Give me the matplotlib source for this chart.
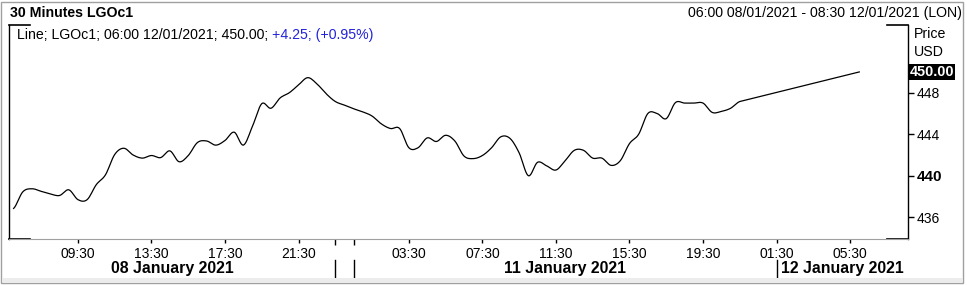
import numpy as np
import pandas as pd
import matplotlib
matplotlib.use("Agg")
import matplotlib.pyplot as plt
from matplotlib.transforms import blended_transform_factory
from matplotlib.patches import Rectangle

plt.rcParams['font.family'] = ['Liberation Sans', 'DejaVu Sans']

W, H = 967, 285

# 30 minute bars, London time (gasoil trades 01:00-23:00, Sunday opens 23:00)
SESSIONS = [("2021-01-08 06:00", "2021-01-08 22:30"),
            ("2021-01-10 23:00", "2021-01-10 23:30"),
            ("2021-01-11 00:00", "2021-01-11 22:30"),
            ("2021-01-12 01:00", "2021-01-12 08:30")]

# closes from 06:00 08/01 up to 21:30 11/01
prices = [436.85, 438.45, 438.75, 438.50, 438.25, 438.10, 438.65, 437.70,
          437.70, 439.15, 440.10, 442.05, 442.65, 442.00, 441.70, 441.95,
          441.75, 442.40, 441.35, 441.95, 443.20, 443.35, 442.95, 443.40,
          444.20, 442.95, 444.80, 446.95, 446.50, 447.50, 448.00, 448.75,
          449.45, 448.85, 447.90, 447.15, 446.80, 446.45, 446.15, 445.75,
          445.00, 444.55, 444.55, 442.70, 442.70, 443.65, 443.30, 443.90,
          443.35, 441.90, 441.65, 441.95, 442.70, 443.75, 443.60, 442.20,
          440.00, 441.30, 440.95, 440.55, 441.45, 442.45, 442.45, 441.70,
          441.70, 441.00, 441.45, 443.10, 444.00, 446.00, 446.00, 445.50,
          447.05, 447.00, 447.00, 447.00, 446.10, 446.20, 446.50, 447.15]
last_time = "2021-01-12 06:00"
last_price = 450.00

y_ticks = [436, 440, 444, 448]
tick_times = ["2021-01-08 09:30", "2021-01-08 13:30", "2021-01-08 17:30",
              "2021-01-08 21:30", "2021-01-11 03:30", "2021-01-11 07:30",
              "2021-01-11 11:30", "2021-01-11 15:30", "2021-01-11 19:30",
              "2021-01-12 01:30", "2021-01-12 05:30"]
date_labels = ["08 January 2021", "11 January 2021", "12 January 2021"]

bars = pd.DatetimeIndex([])
for start, end in SESSIONS:
    bars = bars.append(pd.date_range(start, end, freq="30min"))

x_last = bars.get_loc(pd.Timestamp(last_time))
tick_pos = [bars.get_loc(pd.Timestamp(t)) for t in tick_times]
tick_lab = [pd.Timestamp(t).strftime("%H:%M") for t in tick_times]
# day dividers sit one bar into each new day
day_firsts = [bars.get_loc(bars[bars.normalize() == d][0])
              for d in bars.normalize().unique()[1:]]
dividers = [i + 1 for i in day_firsts]


def smooth_line(y, steps=8):
    # catmull-rom through the closes, the terminal draws its line curved
    y = np.asarray(y, dtype=float)
    p = np.concatenate([[y[0]], y, [y[-1]]])
    xs_out, ys_out = [], []
    t = np.linspace(0, 1, steps, endpoint=False)
    for i in range(len(y) - 1):
        p0, p1, p2, p3 = p[i], p[i + 1], p[i + 2], p[i + 3]
        seg = 0.5 * (2 * p1 + (-p0 + p2) * t + (2 * p0 - 5 * p1 + 4 * p2 - p3) * t ** 2
                     + (-p0 + 3 * p1 - 3 * p2 + p3) * t ** 3)
        xs_out.extend(i + t)
        ys_out.extend(seg)
    xs_out.append(len(y) - 1)
    ys_out.append(y[-1])
    return np.array(xs_out), np.array(ys_out)


fig = plt.figure(figsize=(W / 100, H / 100), dpi=100)
fig.patch.set_facecolor("white")


def fx(px):
    return px / W


def fy(py):
    return 1 - py / H


# outer frame and bottom strip
fig.add_artist(Rectangle((fx(1), fy(283)), fx(962), 281 / H, transform=fig.transFigure,
                         fill=False, ec="#a0a0a0", lw=1))
fig.add_artist(Rectangle((fx(2), fy(282)), fx(960), 4 / H, transform=fig.transFigure,
                         fc="#ececec", ec="none"))

ax = fig.add_axes([fx(9), fy(239), fx(899), 214 / H])
sx, sy = smooth_line(prices)
ax.plot(np.append(sx, x_last), np.append(sy, last_price), color="black", lw=0.9)
ax.set_xlim(-0.5, 97.3)
ax.set_ylim(433.91, 454.52)

for s in ("left", "right"):
    ax.spines[s].set_color("black")
    ax.spines[s].set_linewidth(1)
ax.spines["top"].set_visible(False)
ax.spines["bottom"].set_color("#a0a0a0")
stub = 21 / 899
for yv in (0, 1):
    ax.plot([0, stub], [yv, yv], transform=ax.transAxes, color="black", lw=1.2, clip_on=False)
    ax.plot([1 - stub, 1], [yv, yv], transform=ax.transAxes, color="black", lw=1.2, clip_on=False)

ax.yaxis.tick_right()
ax.set_yticks(y_ticks)
ax.set_yticklabels([str(v) for v in y_ticks])
ax.tick_params(axis="y", direction="out", length=4, width=1, pad=2, labelsize=10)
for lab in ax.get_yticklabels():
    if lab.get_text() == "440":
        lab.set_fontweight("bold")
        lab.set_fontsize(11)

ax.set_xticks(tick_pos)
ax.set_xticklabels(tick_lab)
ax.tick_params(axis="x", direction="out", length=3, width=1, pad=2.5, labelsize=10)
ax.set_xticks(dividers[:2], minor=True)
ax.tick_params(axis="x", which="minor", length=4, width=1, color="black")

# long divider lines in the date row
bt = blended_transform_factory(ax.transData, fig.transFigure)
for d in dividers:
    ax.plot([d, d], [fy(260), fy(279)], transform=bt, color="black", lw=1, clip_on=False)

x0, x1 = ax.get_xlim()
spans = [(x0, dividers[0]), (dividers[1], dividers[2]), (dividers[2], x1)]
for (a, b), lab in zip(spans, date_labels):
    ax.text((a + b) / 2, fy(268), lab, transform=bt, ha="center", va="center",
            fontsize=11.4, fontweight="bold")

# header
fig.text(fx(10), fy(13), "30 Minutes LGOc1", ha="left", va="center",
         fontsize=10.2, fontweight="bold")
fig.text(fx(962), fy(13), "06:00 08/01/2021 - 08:30 12/01/2021 (LON)",
         ha="right", va="center", fontsize=10.2)

t = fig.text(fx(17), fy(35), "Line; LGOc1; 06:00 12/01/2021; 450.00; ",
             ha="left", va="center", fontsize=10.2)
ax.annotate("+4.25; (+0.95%)", xy=(1, 0), xycoords=t, ha="left", va="bottom",
            fontsize=10.2, color="#2222dd")

fig.text(fx(914), fy(34), "Price", ha="left", va="center", fontsize=10.2)
fig.text(fx(914), fy(52), "USD", ha="left", va="center", fontsize=10.2)

bty = blended_transform_factory(ax.transAxes, ax.transData)
ax.annotate("450.00", xy=(1, last_price), xycoords=bty, xytext=(1, 0),
            textcoords="offset points", ha="left", va="center", color="white",
            fontsize=10.4, fontweight="bold",
            bbox=dict(boxstyle="square,pad=0.08", fc="black", ec="none"))

fig.savefig("out.png", dpi=100)
